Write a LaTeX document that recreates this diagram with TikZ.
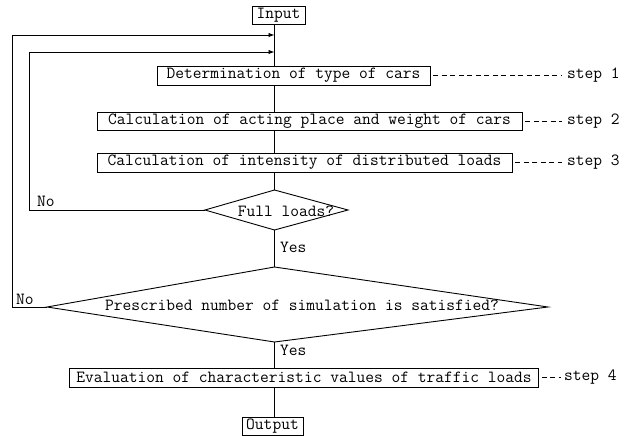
\documentclass[tikz,border=0pt]{standalone}
\usepackage{fontspec}
\usetikzlibrary{arrows.meta}
\begin{document}
\begin{tikzpicture}[x=1pt,y=-1pt,
  every node/.style={font=\ttfamily\fontsize{17}{18}\selectfont, inner sep=0pt},
  box/.style={draw, line width=0.9pt, minimum height=19pt},
  line/.style={line width=0.9pt},
  arr/.style={line width=0.9pt, -{Latex[length=6pt,width=4.5pt]}},
  stepline/.style={line width=0.8pt, dash pattern=on 5pt off 3.5pt},
  lbl/.style={anchor=west},
  steplbl/.style={anchor=west}]
\useasboundingbox (0,0) rectangle (627,436);

% boxes
\node[box, minimum width=53pt, minimum height=18pt] (in) at (278.5,15) {Input};
\node[box, minimum width=273pt] (b1) at (293.5,75.5) {Determination of type of cars};
\node[box, minimum width=425pt, minimum height=18pt] (b2) at (309.5,121) {Calculation of acting place and weight of cars};
\node[box, minimum width=415pt] (b3) at (304.5,162.5) {Calculation of intensity of distributed loads};
\node[box, minimum width=469pt] (b4) at (304,377.5) {Evaluation of characteristic values of traffic loads};
\node[box, minimum width=61pt, minimum height=18pt] (out) at (272.5,426.5) {Output};

% decision 1
\coordinate (d1t) at (274.5,190);
\coordinate (d1r) at (348,210);
\coordinate (d1b) at (274.5,230);
\coordinate (d1l) at (205,210);
\draw[line] (d1t) -- (d1r) -- (d1b) -- (d1l) -- cycle;
\node (d1) at (286,211) {Full loads?};

% decision 2
\coordinate (d2t) at (274.5,267);
\coordinate (d2r) at (548,307);
\coordinate (d2b) at (274.5,342);
\coordinate (d2l) at (47,307);
\draw[line] (d2t) -- (d2r) -- (d2b) -- (d2l) -- cycle;
\node (d2) at (302,305) {Prescribed number of simulation is satisfied?};

% main line
\coordinate (mx) at (274.5,0);
\coordinate (j1) at (274.5,35);
\coordinate (j2) at (274.5,52);
\draw[line] (mx |- in.south) -- (mx |- b1.north);
\draw[line] (mx |- b1.south) -- (mx |- b2.north);
\draw[line] (mx |- b2.south) -- (mx |- b3.north);
\draw[line] (mx |- b3.south) -- (d1t);
\draw[line] (d1b) -- (d2t);
\draw[line] (d2b) -- (mx |- b4.north);
\draw[line] (mx |- b4.south) -- (mx |- out.north);

% loops
\coordinate (c1) at (12,35);
\coordinate (c2) at (29,52);
\draw[arr] (d2l) -| (c1) -- (j1);
\draw[arr] (d1l) -| (c2) -- (j2);

% labels
\node[lbl] (no1) at (37,201) {No};
\node[lbl] (no2) at (16,299) {No};
\node[lbl] (yes1) at (280,247) {Yes};
\node[lbl] (yes2) at (280,350) {Yes};

% steps
\node[steplbl] (s1) at (567,75.5) {step 1};
\node[steplbl] (s2) at (567,121) {step 2};
\node[steplbl] (s3) at (567,162.5) {step 3};
\node[steplbl] (s4) at (564,377.5) {step 4};
\draw[stepline] (b1.east) ++(3,0) -- ([xshift=-6pt]s1.west);
\draw[stepline] (b2.east) ++(3,0) -- ([xshift=-5pt]s2.west);
\draw[stepline] (b3.east) ++(3,0) -- ([xshift=-5pt]s3.west);
\draw[stepline] (b4.east) ++(3,0) -- ([xshift=-3pt]s4.west);
\end{tikzpicture}
\end{document}
